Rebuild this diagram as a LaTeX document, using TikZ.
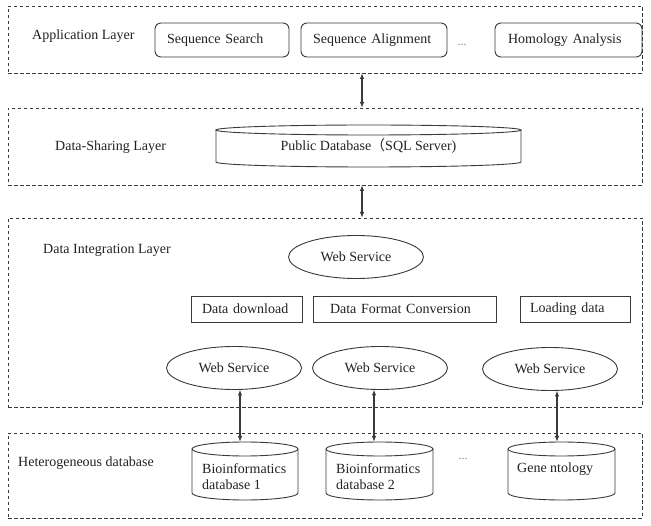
\documentclass[tikz,border=0pt]{standalone}
\usepackage{fontspec}
\setmainfont{Liberation Serif}
\newfontfamily\cjkfont{Noto Sans CJK SC}
\usetikzlibrary{arrows.meta,shapes.geometric}
\definecolor{ln}{HTML}{3A3A3A}
\definecolor{txt}{HTML}{222222}
\newcommand\drawcyl[3]{%
  \draw[cyl] ([yshift=-#3]#1.north west) -- ([yshift=#3]#1.south west)
    arc[start angle=180,end angle=360,x radius=#2,y radius=#3] -- ([yshift=-#3]#1.north east);
  \draw[cyl] ([yshift=-#3]#1.north) ellipse[x radius=#2,y radius=#3];}
\begin{document}
\begin{tikzpicture}[x=1pt,y=-1pt,
  every node/.style={font=\fontsize{14}{16}\selectfont, text=txt},
  layer/.style={draw=ln, line width=0.9pt, dash pattern=on 3.5pt off 2.5pt, anchor=north west, inner sep=0pt, outer sep=0pt},
  appbox/.style={draw=ln, line width=0.9pt, rounded corners=6pt, minimum height=34pt, anchor=west, align=left, inner ysep=0pt, outer sep=0pt},
  opbox/.style={draw=ln, line width=0.9pt, minimum height=26pt, anchor=west, align=left, inner ysep=0pt, outer sep=0pt},
  ws/.style={draw=ln, line width=0.9pt, ellipse, minimum width=135pt, minimum height=43pt, inner sep=0pt, outer sep=0pt},
  cylbody/.style={inner sep=0pt, outer sep=0pt, anchor=north west},
  cyl/.style={draw=ln, line width=0.9pt},
  lbl/.style={anchor=west, inner sep=0pt},
  dbtext/.style={anchor=north west, inner sep=0pt, align=left},
  dbl/.style={{Latex[length=6pt,width=4.5pt]}-{Latex[length=6pt,width=4.5pt]}, line width=1.2pt, draw=ln},
  dotsnode/.style={font=\fontsize{12}{14}\selectfont, text=gray, inner sep=0pt},
]
\useasboundingbox[fill=white] (0,0) rectangle (651,526);
% layers
\node[layer, minimum width=634pt, minimum height=67pt] (app) at (8,6) {};
\node[layer, minimum width=634pt, minimum height=77pt] (share) at (8,108) {};
\node[layer, minimum width=634pt, minimum height=189pt] (integ) at (8,218) {};
\node[layer, minimum width=634pt, minimum height=85pt] (het) at (8,433) {};
% layer labels
\node[lbl] (applbl) at (32,36) {Application Layer};
\node[lbl] (sharelbl) at (55,147) {Data-Sharing Layer};
\node[lbl] (integlbl) at (43,250) {Data Integration Layer};
\node[lbl] (hetlbl) at (18,463) {Heterogeneous database};
% application layer
\node[appbox, inner xsep=12pt, text width=110pt] (search) at (155,40) {Sequence Search};
\node[appbox, inner xsep=12pt, text width=122pt] (align) at (301,40) {Sequence Alignment};
\node[appbox, inner xsep=13pt, text width=121pt] (homol) at (495,40) {Homology Analysis};
\node[dotsnode] (dots1) at (462,45) {...};
% data-sharing layer
\node[cylbody, minimum width=305pt, minimum height=42pt] (pubdb) at (216,125) {Public Database{\cjkfont （}SQL Server)};
\drawcyl{pubdb}{152.5pt}{5pt}
% data integration layer
\node[ws] (wstop) at (356,257) {Web Service};
\node[opbox, inner xsep=11pt, text width=89pt] (dl) at (191,309) {Data download};
\node[opbox, inner xsep=17pt, text width=149pt] (conv) at (313,309) {Data Format Conversion};
\node[opbox, inner xsep=10pt, text width=90pt] (load) at (520,309) {Loading data};
\node[ws] (ws1) at (234,368) {Web Service};
\node[ws] (ws2) at (380,368) {Web Service};
\node[ws] (ws3) at (550,369) {Web Service};
% heterogeneous databases
\node[cylbody, minimum width=106pt, minimum height=58pt] (db1) at (192,442) {};
\node[cylbody, minimum width=107pt, minimum height=58pt] (db2) at (326,442) {};
\node[cylbody, minimum width=107pt, minimum height=58pt] (db3) at (508,442) {};
\drawcyl{db1}{53pt}{7pt}
\drawcyl{db2}{53.5pt}{7pt}
\drawcyl{db3}{53.5pt}{7pt}
\node[dbtext] (db1t) at (202,463) {Bioinformatics\\database 1};
\node[dbtext] (db2t) at (336,463) {Bioinformatics\\database 2};
\node[dbtext] (db3t) at (517,463) {Gene ntology};
\node[dotsnode] (dots2) at (463,459) {...};
% connectors
\coordinate (ax) at (362,0);
\coordinate (a1) at (240,0);
\coordinate (a2) at (374,0);
\coordinate (a3) at (557,0);
\draw[dbl] (app.south -| ax) -- (share.north -| ax);
\draw[dbl] (share.south -| ax) -- (integ.north -| ax);
\draw[dbl] (a1 |- ws1.south) -- (a1 |- db1.north);
\draw[dbl] (a2 |- ws2.south) -- (a2 |- db2.north);
\draw[dbl] (a3 |- ws3.south) -- (a3 |- db3.north);
\end{tikzpicture}
\end{document}
